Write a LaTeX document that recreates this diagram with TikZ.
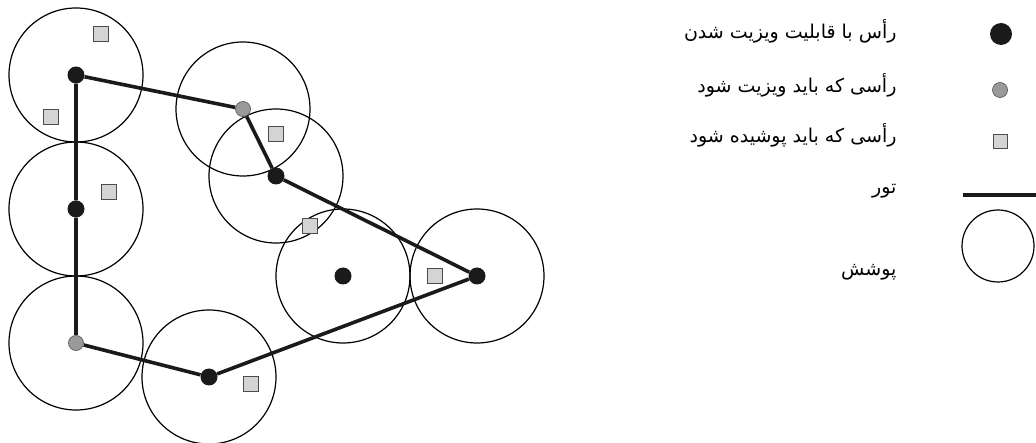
\documentclass[tikz,border=0pt]{standalone}
\usepackage{fontspec}
\newfontfamily\farsifont[Script=Arabic]{DejaVu Sans}
\TeXXeTstate=1
\usetikzlibrary{backgrounds}
\usepackage{xcolor}
\definecolor{dotblack}{HTML}{1A1A1A}
\definecolor{dotgray}{HTML}{9A9A9A}
\definecolor{boxgray}{HTML}{D4D4D4}
\tikzset{
  cover/.style = {draw, line width=1.2pt},
  tour/.style = {line width=3.6pt, dotblack},
  canvisit/.style = {circle, fill=dotblack, inner sep=0pt, minimum size=17pt},
  mustvisit/.style = {circle, draw=gray!80!black, fill=dotgray, inner sep=0pt, minimum size=15pt, line width=0.8pt},
  mustcover/.style = {rectangle, draw=gray!60!black, fill=boxgray, inner sep=0pt, minimum size=15pt, line width=0.9pt},
  legendtext/.style = {anchor=base east, font=\farsifont\fontsize{19}{22}\selectfont}
}

\begin{document}
\begin{tikzpicture}[x=1pt, y=-1pt]
\useasboundingbox (0,0) rectangle (1036,443);

% vertices
\node[canvisit] (a) at (76,75) {};
\node[canvisit] (b) at (76,209) {};
\node[mustvisit] (c) at (76,343) {};
\node[canvisit] (d) at (209,377) {};
\node[canvisit] (e) at (343,276) {};
\node[canvisit] (f) at (477,276) {};
\node[canvisit] (h) at (276,176) {};
\node[mustvisit] (g) at (243,109) {};

% vertices to cover
\node[mustcover] (s1) at (101,34) {};
\node[mustcover] (s2) at (51,117) {};
\node[mustcover] (s3) at (109,192) {};
\node[mustcover] (s4) at (276,134) {};
\node[mustcover] (s5) at (310,226) {};
\node[mustcover] (s6) at (435,276) {};
\node[mustcover] (s7) at (251,384) {};

\begin{scope}[on background layer]
\foreach \v in {a,b,c,d,e,f,g,h}
  \draw[cover] (\v) circle[radius=67pt];
\draw[tour] (a) -- (b) -- (c) -- (d) -- (f) -- (h) -- (g) -- (a);
\end{scope}

% legend
\node[canvisit, minimum size=22pt] (kv) at (1001,34) {};
\node[mustvisit] (kg) at (1000,90) {};
\node[mustcover, minimum size=14pt] (ks) at (1000,141) {};
\coordinate (kl) at (963,195);
\coordinate (kr) at (1036,195);
\draw[tour] (kl) -- (kr);
\node[cover, circle, minimum size=72pt] (kc) at (998,246) {};

\node[legendtext] (t1) at (900,39) {\beginR رأس با قابلیت ویزیت شدن\endR};
\node[legendtext] (t2) at (900,93) {\beginR رأسی که باید ویزیت شود\endR};
\node[legendtext] (t3) at (900,143) {\beginR رأسی که باید پوشیده شود\endR};
\node[legendtext] (t4) at (900,194) {\beginR تور\endR};
\node[legendtext] (t5) at (900,276) {\beginR پوشش\endR};
\end{tikzpicture}
\end{document}
